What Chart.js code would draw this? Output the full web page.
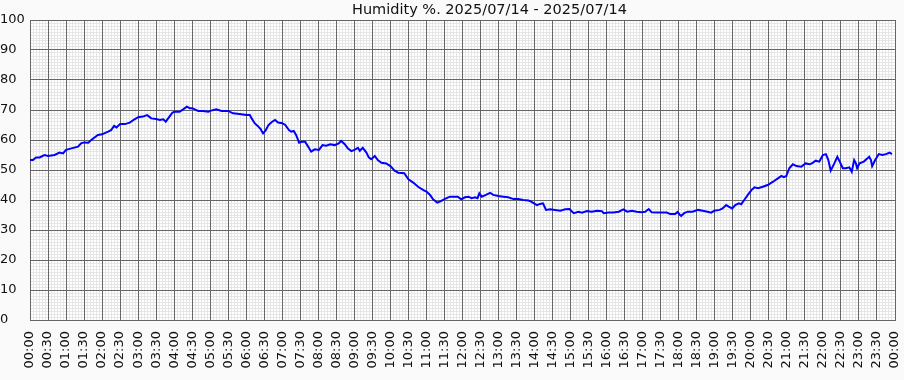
<!DOCTYPE html>
<html>
<head>
<meta charset="utf-8">
<script src="https://cdn.jsdelivr.net/npm/chart.js@4/dist/chart.umd.min.js"></script>
<style>
  body { margin: 0; background: #fafafa; }
  #wrap { position: relative; width: 904px; height: 380px; }
  #title { position: absolute; top: 0; left: 352px; font: 14.5px "DejaVu Sans"; line-height: 19px; color: #111; white-space: nowrap; }
</style>
</head>
<body>
<div id="wrap">
  <div id="title">Humidity %. 2025/07/14 - 2025/07/14</div>
  <canvas id="humidity-chart" width="904" height="380"></canvas>
</div>
<script>
const times = [
  "00:00", "00:05", "00:10", "00:16", "00:24", "00:30", "00:41", "00:49", "00:55", "01:00",
  "01:09", "01:20", "01:25", "01:30", "01:37", "01:42", "01:53", "02:00", "02:10", "02:15",
  "02:20", "02:24", "02:30", "02:38", "02:46", "02:54", "03:00", "03:08", "03:15", "03:22",
  "03:30", "03:36", "03:42", "03:46", "03:50", "03:57", "04:00", "04:09", "04:15", "04:21",
  "04:26", "04:30", "04:40", "04:48", "04:57", "05:00", "05:10", "05:19", "05:30", "05:38",
  "05:49", "06:00", "06:06", "06:09", "06:14", "06:19", "06:24", "06:28", "06:32", "06:37",
  "06:43", "06:48", "06:53", "07:00", "07:05", "07:11", "07:15", "07:19", "07:23", "07:28",
  "07:32", "07:38", "07:43", "07:48", "07:54", "08:01", "08:07", "08:13", "08:20", "08:27",
  "08:34", "08:38", "08:44", "08:49", "08:55", "09:00", "09:06", "09:09", "09:14", "09:20",
  "09:24", "09:28", "09:34", "09:39", "09:45", "09:53", "10:00", "10:07", "10:13", "10:23",
  "10:30", "10:38", "10:46", "10:55", "11:00", "11:06", "11:11", "11:18", "11:25", "11:30",
  "11:39", "11:52", "11:58", "12:04", "12:10", "12:15", "12:21", "12:25", "12:28", "12:32",
  "12:39", "12:46", "12:51", "13:00", "13:08", "13:16", "13:25", "13:33", "13:41", "13:50",
  "13:55", "13:59", "14:04", "14:09", "14:14", "14:19", "14:26", "14:34", "14:43", "14:51",
  "14:58", "15:05", "15:13", "15:19", "15:27", "15:35", "15:44", "15:52", "15:55", "16:03",
  "16:11", "16:20", "16:28", "16:34", "16:42", "16:50", "16:58", "17:04", "17:10", "17:15",
  "17:24", "17:32", "17:40", "17:46", "17:54", "17:58", "18:02", "18:04", "18:09", "18:15",
  "18:23", "18:32", "18:40", "18:48", "18:54", "18:59", "19:08", "19:13", "19:19", "19:23",
  "19:29", "19:34", "19:40", "19:44", "19:49", "19:55", "20:01", "20:06", "20:12", "20:20",
  "20:28", "20:37", "20:45", "20:51", "20:55", "20:59", "21:04", "21:10", "21:16", "21:24",
  "21:31", "21:38", "21:43", "21:48", "21:54", "22:00", "22:05", "22:09", "22:13", "22:19",
  "22:24", "22:28", "22:33", "22:38", "22:44", "22:48", "22:52", "22:55", "22:57", "23:01",
  "23:08", "23:17", "23:20", "23:22", "23:27", "23:33", "23:39", "23:45", "23:51", "23:55"
];
const humidity = [
  53.3, 53.3, 54.2, 54.2, 55.0, 54.7, 55.0, 55.8, 55.5, 56.7,
  57.2, 57.8, 58.9, 59.2, 59.1, 60.0, 61.7, 61.9, 62.8, 63.3,
  64.7, 64.2, 65.3, 65.3, 65.8, 66.9, 67.6, 67.8, 68.3, 67.2,
  67.0, 66.7, 66.9, 66.1, 67.2, 69.1, 69.4, 69.4, 70.2, 71.1,
  70.6, 70.6, 69.7, 69.7, 69.4, 69.7, 70.2, 69.7, 69.7, 68.9,
  68.7, 68.3, 68.3, 67.2, 65.6, 64.7, 63.6, 62.2, 63.1, 65.0,
  66.1, 66.7, 65.8, 65.6, 65.0, 63.3, 62.8, 63.0, 61.7, 59.1,
  59.4, 59.4, 57.8, 56.1, 56.9, 56.7, 58.3, 58.1, 58.6, 58.3,
  58.9, 59.7, 58.6, 57.2, 56.3, 56.7, 57.4, 56.4, 57.4, 55.8,
  54.2, 53.6, 54.7, 53.3, 52.4, 52.2, 51.3, 49.8, 49.1, 48.9,
  46.9, 45.8, 44.4, 43.3, 42.8, 41.7, 40.2, 39.1, 39.7, 40.3,
  41.1, 41.1, 40.2, 40.9, 41.1, 40.6, 40.9, 40.6, 42.2, 41.1,
  41.7, 42.4, 41.7, 41.3, 41.1, 40.9, 40.3, 40.3, 40.0, 39.8,
  39.4, 38.9, 38.3, 38.7, 38.9, 36.7, 36.9, 36.7, 36.4, 36.9,
  37.0, 35.6, 36.1, 35.8, 36.3, 36.1, 36.4, 36.3, 35.6, 35.8,
  35.8, 36.1, 36.9, 36.1, 36.4, 36.1, 35.9, 36.1, 37.0, 35.9,
  35.8, 35.8, 35.8, 35.3, 35.3, 36.0, 35.0, 34.7, 35.6, 36.1,
  36.1, 36.7, 36.4, 36.1, 35.8, 36.4, 36.7, 37.2, 38.3, 37.8,
  37.2, 38.3, 38.9, 38.6, 40.0, 41.7, 43.3, 44.2, 43.9, 44.4,
  45.0, 46.1, 47.2, 48.0, 47.6, 48.0, 50.6, 51.9, 51.3, 51.1,
  52.2, 51.9, 52.4, 53.1, 52.8, 55.0, 55.3, 53.3, 49.8, 52.2,
  54.4, 52.8, 50.6, 50.6, 50.9, 49.4, 53.3, 52.2, 50.6, 52.2,
  52.8, 54.4, 53.3, 51.3, 53.3, 55.3, 55.0, 55.3, 55.8, 55.3
];
const yTicks = [0, 10, 20, 30, 40, 50, 60, 70, 80, 90, 100];

const toMinutes = (t) => {
  let parts = t.split(":");
  return Number(parts[0]) * 60 + Number(parts[1]);
};
const toLabel = (m) => {
  let mm = m % 1440;
  let h = Math.floor(mm / 60);
  let min = mm % 60;
  return String(h).padStart(2, "0") + ":" + String(min).padStart(2, "0");
};

const points = times.map((t, i) => ({ x: toMinutes(t), y: humidity[i] }));

const MAJOR = "#666666";
const MINOR = "#e6e6e6";
const font = { family: "DejaVu Sans", size: 13 };

// white plot background
const plotBackground = {
  id: "plotBackground",
  beforeDraw(chart) {
    let a = chart.chartArea;
    chart.ctx.save();
    chart.ctx.fillStyle = "#ffffff";
    chart.ctx.fillRect(a.left, a.top, a.right - a.left, a.bottom - a.top);
    chart.ctx.restore();
  },
};

let ctx = document.getElementById("humidity-chart").getContext("2d");
let humidityChart = new Chart(ctx, {
  type: "line",
  data: {
    datasets: [
      {
        data: points,
        borderColor: "#0000ff",
        borderWidth: 2,
        pointRadius: 0,
        tension: 0,
        fill: false,
      },
    ],
  },
  options: {
    responsive: false,
    animation: false,
    layout: { padding: { top: 20, right: 9, left: 0, bottom: 0 } },
    plugins: {
      legend: { display: false },
      title: { display: false },
      tooltip: { enabled: false },
    },
    scales: {
      xMinor: {
        type: "linear",
        position: "top",
        min: 0,
        max: 1440,
        ticks: { display: false, stepSize: 5 },
        grid: { color: MINOR, drawTicks: false, z: -2 },
        border: { display: false },
        afterFit: (s) => { s.height = 0; s.paddingLeft = 0; s.paddingRight = 0; },
      },
      yMinor: {
        type: "linear",
        position: "right",
        min: 0,
        max: 100,
        ticks: { display: false, stepSize: 1 },
        grid: { color: MINOR, drawTicks: false, z: -2 },
        border: { display: false },
        afterFit: (s) => { s.width = 0; s.paddingTop = 0; s.paddingBottom = 0; },
      },
      x: {
        type: "linear",
        position: "bottom",
        min: 0,
        max: 1440,
        ticks: {
          stepSize: 30,
          autoSkip: false,
          maxRotation: 90,
          minRotation: 90,
          padding: 11,
          color: "#111",
          font: font,
          callback: (v) => toLabel(v),
        },
        grid: { color: MAJOR, drawTicks: false, z: -1 },
        border: { color: MAJOR },
        afterFit: (s) => { s.height = 60; s.paddingLeft = 0; s.paddingRight = 0; },
      },
      y: {
        type: "linear",
        position: "left",
        min: 0,
        max: 100,
        afterBuildTicks: (s) => { s.ticks = yTicks.map((v) => ({ value: v })); },
        ticks: {
          crossAlign: "far",
          padding: 4,
          color: "#111",
          font: font,
        },
        grid: { color: MAJOR, drawTicks: false, z: -1 },
        border: { color: MAJOR },
        afterFit: (s) => { s.width = 30; s.paddingTop = 0; s.paddingBottom = 0; },
      },
    },
  },
  plugins: [plotBackground],
});
</script>
</body>
</html>
